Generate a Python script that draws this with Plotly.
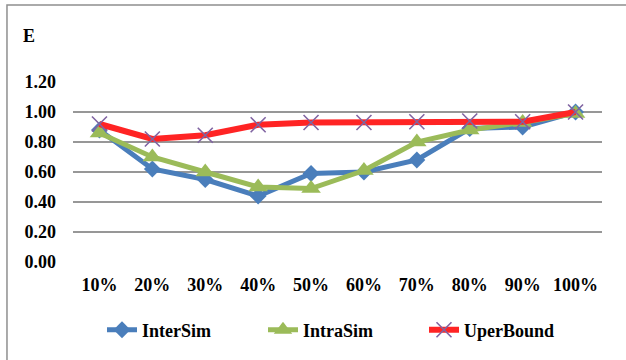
import plotly.graph_objects as go

categories = ["10%", "20%", "30%", "40%", "50%", "60%", "70%", "80%", "90%", "100%"]
inter_sim = [0.88, 0.62, 0.55, 0.44, 0.59, 0.60, 0.68, 0.89, 0.90, 1.00]
intra_sim = [0.86, 0.70, 0.60, 0.50, 0.49, 0.61, 0.80, 0.88, 0.93, 0.99]
uper_bound = [0.92, 0.82, 0.845, 0.915, 0.93, 0.93, 0.935, 0.94, 0.935, 1.00]
y_ticks = [0.0, 0.2, 0.4, 0.6, 0.8, 1.0, 1.2]
y_tick_labels = ["0.00", "0.20", "0.40", "0.60", "0.80", "1.00", "1.20"]

FONT = "Liberation Serif, Times New Roman, serif"

def bold(s):
    return "<b>" + s + "</b>"

fig = go.Figure()
fig.add_trace(go.Scatter(
    x=categories, y=inter_sim, name=bold("InterSim"), mode="lines+markers",
    line=dict(color="#4A7EBB", width=5),
    marker=dict(symbol="diamond", size=13, color="#4A7EBB"),
))
fig.add_trace(go.Scatter(
    x=categories, y=intra_sim, name=bold("IntraSim"), mode="lines+markers",
    line=dict(color="#9BBB59", width=5),
    marker=dict(symbol="triangle-up", size=17, color="#9BBB59"),
))
fig.add_trace(go.Scatter(
    x=categories, y=uper_bound, name=bold("UperBound"), mode="lines+markers",
    line=dict(color="#FF2424", width=6),
    marker=dict(symbol="x-thin", size=15, color="#8064A2",
                line=dict(color="#8064A2", width=1.6)),
))

# outer frame
fig.add_shape(type="rect", xref="paper", yref="paper",
              x0=-0.1248, x1=1.1, y0=-0.62, y1=1.4278,
              line=dict(color="#8f8f8f", width=1.5), fillcolor="rgba(0,0,0,0)",
              layer="below")

fig.add_annotation(text="<b>E</b>", xref="paper", yref="paper",
                   x=(29 - 73) / 529, y=(262 - 36) / 180,
                   showarrow=False, xanchor="center", yanchor="middle",
                   font=dict(family=FONT, size=18, color="black"))

fig.update_layout(
    width=626, height=360,
    margin=dict(l=73, r=24, t=82, b=98),
    paper_bgcolor="white", plot_bgcolor="white",
    font=dict(family=FONT, size=18, color="black"),
    showlegend=True,
    legend=dict(orientation="h", x=0.5 + 6 / 529, xanchor="center",
                y=(262 - 330) / 180, yanchor="middle",
                font=dict(family=FONT, size=18, color="black"),
                entrywidth=116, tracegroupgap=0),
    xaxis=dict(type="category", range=[-0.5, 9.5], showgrid=False, zeroline=False,
               showline=False, ticks="", ticklabelstandoff=10,
               tickvals=categories, ticktext=[bold(c) for c in categories],
               tickfont=dict(family=FONT, size=18)),
    yaxis=dict(range=[0, 1.2], tickvals=y_ticks,
               ticktext=[bold(t) for t in y_tick_labels],
               showgrid=True, gridcolor="#979797", gridwidth=1.5,
               zeroline=False, showline=False, ticks="",
               ticklabelstandoff=16,
               tickfont=dict(family=FONT, size=18)),
)

fig.write_html("out.html", config={"displayModeBar": False},
               post_script="document.body.style.margin='0px';document.body.style.overflow='hidden';")
